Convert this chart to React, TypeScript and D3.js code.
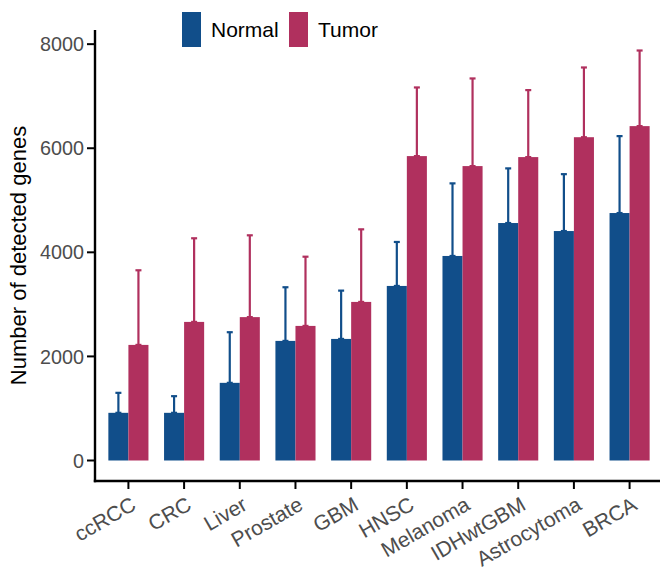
import React from "react";
import * as d3 from "d3";

const categories = ["ccRCC", "CRC", "Liver", "Prostate", "GBM", "HNSC", "Melanoma", "IDHwtGBM", "Astrocytoma", "BRCA"];
const groups = ["Normal", "Tumor"];
const normalMean = [916, 916, 1492, 2298, 2336, 3354, 3930, 4563, 4409, 4755];
const normalUpper = [1300, 1236, 2465, 3329, 3264, 4199, 5325, 5613, 5502, 6233];
const tumorMean = [2221, 2663, 2755, 2586, 3047, 5849, 5657, 5830, 6212, 6425];
const tumorUpper = [3655, 4270, 4327, 3916, 4442, 7168, 7341, 7117, 7552, 7878];
const yTicks = [0, 2000, 4000, 6000, 8000];

const colors: Record<string, string> = { Normal: "#114E8A", Tumor: "#B0305E" };
const FONT = "'Liberation Sans', Arial, Helvetica, sans-serif";

export default function App() {
  const width = 660;
  const height = 572;
  const left = 95;
  const right = 663;
  const top = 30;
  const bottom = 481;

  const x = d3.scaleBand<string>().domain(categories).range([left, right]).paddingInner(0).paddingOuter(0.1);
  const step = x.step();
  const groupWidth = step * 0.72;
  const xSub = d3.scaleBand<string>().domain(groups).range([0, groupWidth]);
  const y = d3.scaleLinear().domain([-394, 8272]).range([bottom, top]);

  const series = [
    { key: "Normal", mean: normalMean, upper: normalUpper },
    { key: "Tumor", mean: tumorMean, upper: tumorUpper },
  ];

  const capHalf = 3;

  return (
    <svg width={width} height={height} style={{ position: "absolute", left: 0, top: 0, background: "#fff" }} fontFamily={FONT}>
      {/* error bars (drawn under the bars) */}
      {series.map((s) =>
        categories.map((c, i) => {
          const cx = (x(c) as number) + step / 2 - groupWidth / 2 + (xSub(s.key) as number) + xSub.bandwidth() / 2;
          return (
            <g key={`e-${s.key}-${c}`} stroke={colors[s.key]} strokeWidth={2.2}>
              <line x1={cx} x2={cx} y1={y(s.mean[i])} y2={y(s.upper[i])} />
              <line x1={cx - capHalf} x2={cx + capHalf} y1={y(s.upper[i])} y2={y(s.upper[i])} />
              <line x1={cx - capHalf} x2={cx + capHalf} y1={y(s.mean[i])} y2={y(s.mean[i])} />
            </g>
          );
        })
      )}
      {/* bars */}
      {series.map((s) =>
        categories.map((c, i) => {
          const bx = (x(c) as number) + step / 2 - groupWidth / 2 + (xSub(s.key) as number);
          return (
            <rect
              key={`b-${s.key}-${c}`}
              x={bx}
              y={y(s.mean[i])}
              width={xSub.bandwidth()}
              height={y(0) - y(s.mean[i])}
              fill={colors[s.key]}
            />
          );
        })
      )}

      {/* y axis */}
      <line x1={left} x2={left} y1={top} y2={bottom + 1.2} stroke="#000" strokeWidth={2.4} />
      {yTicks.map((t) => (
        <g key={`yt-${t}`}>
          <line x1={left - 8} x2={left} y1={y(t)} y2={y(t)} stroke="#000" strokeWidth={2} />
          <text x={left - 11} y={y(t)} dy="0.36em" textAnchor="end" fontSize={19.8} fill="#4D4D4D">
            {t}
          </text>
        </g>
      ))}
      <text
        transform={`translate(${26},${(top + bottom) / 2}) rotate(-90)`}
        textAnchor="middle"
        fontSize={22}
        fill="#000"
      >
        Number of detected genes
      </text>

      {/* x axis */}
      <line x1={left - 1.2} x2={width} y1={bottom} y2={bottom} stroke="#000" strokeWidth={2.4} />
      {categories.map((c) => {
        const cx = (x(c) as number) + step / 2;
        return (
          <g key={`xt-${c}`}>
            <line x1={cx} x2={cx} y1={bottom} y2={bottom + 8} stroke="#000" strokeWidth={2} />
            <text
              transform={`translate(${cx + 1},${bottom + 14}) rotate(-30)`}
              textAnchor="end"
              dy="0.75em"
              fontSize={21}
              fill="#4D4D4D"
            >
              {c}
            </text>
          </g>
        );
      })}

      {/* legend */}
      {groups.map((g, i) => {
        const lx = i === 0 ? 182 : 289;
        return (
          <g key={`lg-${g}`}>
            <rect x={lx} y={12} width={19} height={35} fill={colors[g]} />
            <text x={lx + 29} y={29.5} dy="0.36em" fontSize={21} fill="#000">
              {g}
            </text>
          </g>
        );
      })}
    </svg>
  );
}
